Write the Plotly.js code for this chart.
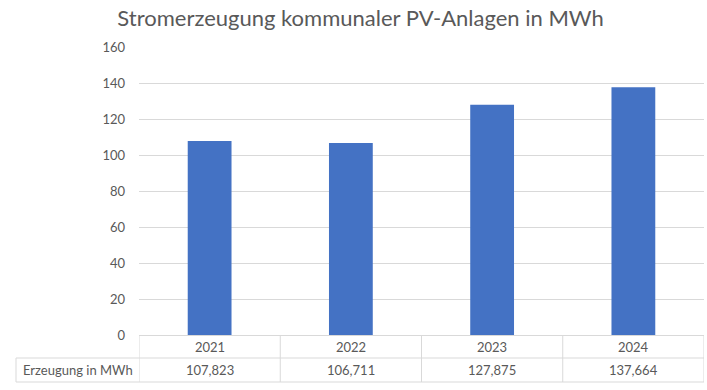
<!DOCTYPE html>
<html>
<head>
<meta charset="utf-8">
<script src="https://cdn.plot.ly/plotly-3.0.1.min.js"></script>
<style>
html,body{margin:0;padding:0;background:#fff;}
#chart{width:707px;height:390px;}
</style>
</head>
<body>
<div id="chart"></div>
<script>
const years = ['2021', '2022', '2023', '2024'];
const production = [107.823, 106.711, 127.875, 137.664];
const rowLabel = 'Erzeugung in MWh';
const chartTitle = 'Stromerzeugung kommunaler PV-Anlagen in MWh';
const yTicks = [0, 20, 40, 60, 80, 100, 120, 140, 160];

const W = 707, H = 390;
const mL = 139, mR = 3, mT = 47, mB = 55;
const plotH = H - mT - mB;
const pxToPaperY = px => -px / plotH;      // px below the x-axis
const leftPaperX = (16 - mL) / (W - mL - mR);

const textColor = '#595959';
const lineColor = '#d9d9d9';
const fontFamily = 'Lato, "Open Sans", sans-serif';

const fmt = v => v.toFixed(3).replace('.', ',');

const shapes = [];
const annotations = [];
const row1 = pxToPaperY(23), row2 = pxToPaperY(47);

// horizontal table lines
shapes.push({type:'line', xref:'paper', yref:'paper', x0:leftPaperX, x1:1, y0:row1, y1:row1, line:{color:lineColor, width:1}});
shapes.push({type:'line', xref:'paper', yref:'paper', x0:leftPaperX, x1:1, y0:row2, y1:row2, line:{color:lineColor, width:1}});
// vertical table lines
shapes.push({type:'line', xref:'paper', yref:'paper', x0:leftPaperX, x1:leftPaperX, y0:row1, y1:row2, line:{color:lineColor, width:1}});
for (let i = 0; i <= years.length; i++) {
  shapes.push({type:'line', xref:'x', yref:'paper', x0:i - 0.5, x1:i - 0.5, y0:0, y1:row2, line:{color:lineColor, width:1}});
}

years.forEach((yr, i) => {
  annotations.push({x:i, xref:'x', y:(0 + row1) / 2, yref:'paper', text:yr, showarrow:false,
    font:{family:fontFamily, size:13, color:textColor}, xanchor:'center', yanchor:'middle'});
  annotations.push({x:i, xref:'x', y:(row1 + row2) / 2, yref:'paper', text:fmt(production[i]), showarrow:false,
    font:{family:fontFamily, size:13, color:textColor}, xanchor:'center', yanchor:'middle'});
});
annotations.push({x:(leftPaperX + 0) / 2, xref:'paper', y:(row1 + row2) / 2, yref:'paper', text:rowLabel, showarrow:false,
  font:{family:fontFamily, size:13, color:textColor}, xanchor:'center', yanchor:'middle'});

const data = [{
  type:'bar',
  x:years,
  y:production,
  marker:{color:'#4472c4'},
  hoverinfo:'none'
}];

const layout = {
  width:W, height:H,
  margin:{l:mL, r:mR, t:mT, b:mB, pad:0},
  paper_bgcolor:'#fff', plot_bgcolor:'#fff',
  bargap:0.69,
  showlegend:false,
  font:{family:fontFamily, color:textColor},
  title:{text:chartTitle, font:{family:fontFamily, size:22, color:textColor},
    xref:'container', x:0.51, xanchor:'center', yref:'container', y:1 - 18 / H, yanchor:'middle'},
  xaxis:{type:'category', showticklabels:false, showgrid:false, zeroline:false, showline:false, ticks:'',
    range:[-0.5, years.length - 0.5], fixedrange:true},
  yaxis:{range:[0, 160], tickvals:yTicks, ticktext:yTicks.map(String), showgrid:true, gridcolor:lineColor, gridwidth:1,
    zeroline:true, zerolinecolor:lineColor, zerolinewidth:1, showline:false, ticks:'',
    ticklabelstandoff:13, tickfont:{family:fontFamily, size:13, color:textColor}, fixedrange:true},
  shapes:shapes,
  annotations:annotations
};

Plotly.newPlot('chart', data, layout, {displayModeBar:false, staticPlot:true});
</script>
</body>
</html>
